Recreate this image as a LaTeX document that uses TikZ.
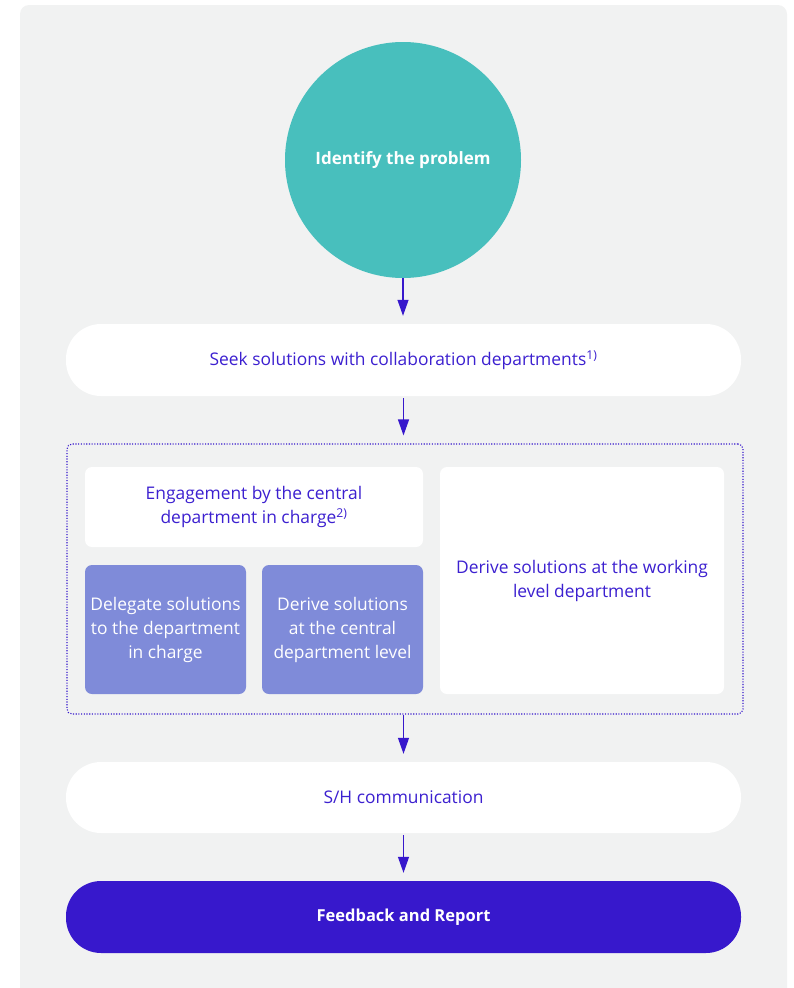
\documentclass[tikz,border=0pt]{standalone}
\usepackage{fontspec}
\setmainfont{Open Sans}
\usetikzlibrary{arrows.meta}
\definecolor{bgc}{HTML}{F1F2F2}
\definecolor{tealc}{HTML}{48BFBD}
\definecolor{deep}{HTML}{3718CC}
\definecolor{txt}{HTML}{3C20D0}
\definecolor{lav}{HTML}{7F8BD9}
\tikzset{
  x=1pt, y=-1pt,
  pill/.style={fill=white, rounded corners=35pt, inner sep=0pt, text=txt, font=\fontsize{17.4}{24}\selectfont},
  card/.style={fill=white, rounded corners=7pt, inner sep=0pt, text=txt, align=center, font=\fontsize{17.4}{24}\selectfont},
  lavcard/.style={fill=lav, rounded corners=7pt, inner sep=0pt, text=white, align=center, font=\fontsize{17.4}{24}\selectfont},
  flow/.style={draw=deep, line width=1.2pt, -{Triangle[width=11pt,length=16pt]}},
}
\begin{document}
\begin{tikzpicture}
\useasboundingbox (0,0) rectangle (794,988);
\clip (0,0) rectangle (794,988);
\fill[bgc, rounded corners=9pt] (20,5) rectangle (787,1010);
\node[circle, fill=tealc, minimum size=236pt, inner sep=0pt, text=white, font=\bfseries\fontsize{17}{24}\selectfont] (c) at (403,160) {Identify the problem};
\node[pill, minimum width=675pt, minimum height=72pt] (seek) at (403.5,360) {Seek solutions with collaboration departments\textsuperscript{1)}};
\node[draw=deep, line width=1.1pt, dash pattern=on 1.1pt off 1.6pt, rounded corners=5pt, minimum width=676pt, minimum height=270pt, inner sep=0pt] (grp) at (405,579) {};
\node[card, minimum width=338pt, minimum height=80pt] (eng) at (254,507) {Engagement by the central\\department in charge\textsuperscript{2)}};
\node[lavcard, minimum width=161pt, minimum height=129pt] (del) at (165.5,629.5) {Delegate solutions\\to the department\\in charge};
\node[lavcard, minimum width=161pt, minimum height=129pt] (cen) at (342.5,629.5) {Derive solutions\\at the central\\department level};
\node[card, minimum width=284pt, minimum height=227pt] (wrk) at (582,580.5) {Derive solutions at the working\\level department};
\node[pill, minimum width=675pt, minimum height=71pt] (sh) at (403.5,797.5) {S/H communication};
\node[pill, fill=deep, text=white, font=\bfseries\fontsize{16.5}{24}\selectfont, minimum width=675pt, minimum height=72pt] (fb) at (403.5,917) {Feedback and Report};
\draw[flow, shorten >=8pt] (c.south) -- (c.south |- seek.north);
\draw[flow, shorten <=2pt, shorten >=8pt] (seek.south) -- (seek.south |- grp.north);
\draw[flow, shorten >=8pt] (seek.south |- grp.south) -- (sh.north);
\draw[flow, shorten <=2pt, shorten >=8pt] (sh.south) -- (fb.north);
\end{tikzpicture}
\end{document}
